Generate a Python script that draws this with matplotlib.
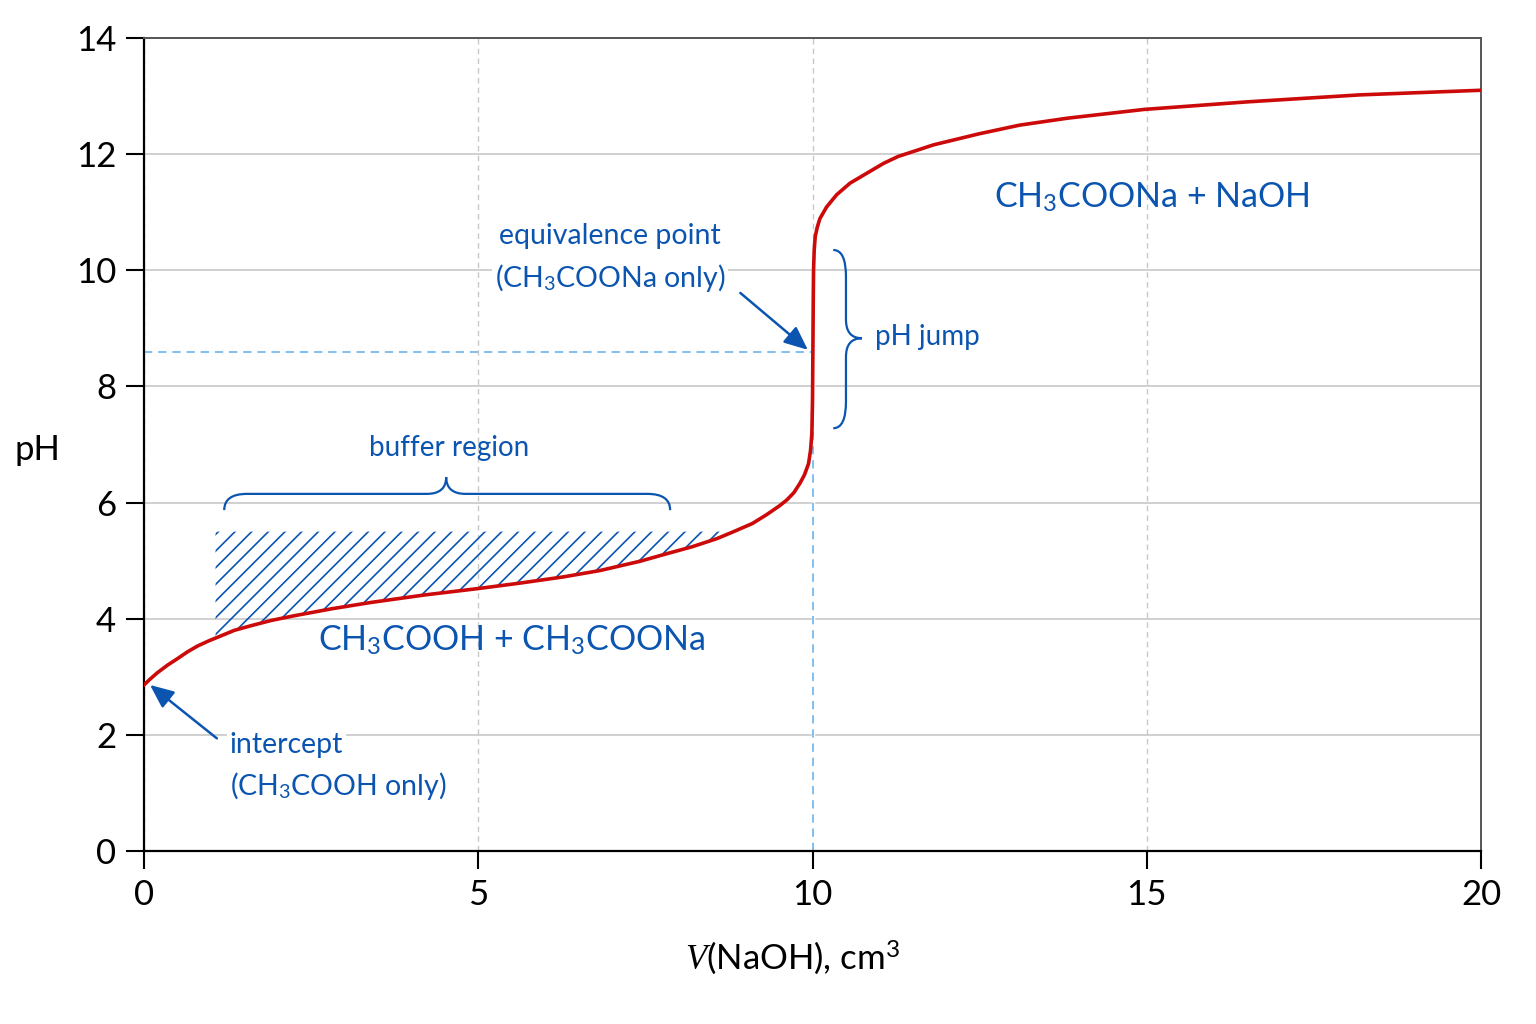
import numpy as np
import matplotlib
matplotlib.use("Agg")
import matplotlib.pyplot as plt
from matplotlib.path import Path
from matplotlib.patches import PathPatch

plt.rcParams['font.family'] = ['Lato', 'DejaVu Sans']
plt.rcParams['mathtext.fontset'] = 'custom'
plt.rcParams['mathtext.rm'] = 'Lato'
plt.rcParams['mathtext.it'] = 'Liberation Serif:italic'
plt.rcParams['hatch.linewidth'] = 1.2

# titration curve: V(NaOH) in cm3 and pH
volume = [0.0, 0.1, 0.2, 0.35, 0.51, 0.65, 0.8, 0.97, 1.14, 1.35, 1.6, 1.9, 2.24,
          2.8, 3.39, 4.2, 5.0, 5.6, 6.27, 6.82, 7.42, 7.82, 8.2, 8.57, 8.82, 9.1,
          9.31, 9.5, 9.61, 9.72, 9.81, 9.88, 9.94, 9.97, 9.99, 10.0, 10.005, 10.01,
          10.015, 10.025, 10.04, 10.07, 10.11, 10.21, 10.36, 10.56, 10.81, 11.06,
          11.28, 11.81, 12.49, 13.10, 13.82, 14.96, 16.5, 18.18, 20.0]
ph = [2.86, 2.97, 3.07, 3.20, 3.32, 3.43, 3.53, 3.62, 3.70, 3.80, 3.88, 3.97, 4.05,
      4.17, 4.28, 4.41, 4.52, 4.61, 4.72, 4.83, 4.99, 5.12, 5.24, 5.38, 5.50, 5.64,
      5.79, 5.94, 6.04, 6.17, 6.33, 6.48, 6.67, 6.90, 7.19, 7.8, 8.6, 9.4,
      10.0, 10.35, 10.58, 10.74, 10.89, 11.09, 11.30, 11.50, 11.67, 11.84,
      11.96, 12.16, 12.35, 12.50, 12.62, 12.77, 12.90, 13.02, 13.10]

equiv_volume = 10.0
equiv_ph = 8.6
buffer_from = 1.07
buffer_to = 8.82
buffer_top = 5.5

xticks = [0, 5, 10, 15, 20]
yticks = [0, 2, 4, 6, 8, 10, 12, 14]

RED = '#CC0A0A'
BLUE = '#0B55B1'
LIGHTBLUE = '#6CB4EE'
GRID = '#C8C8C8'


def hbrace(ax, x0, x1, xm, y, y_end, y_tip, r=0.34, rt=0.29):
    verts = [(x0, y_end), (x0, y), (x0 + r, y), (xm - rt, y), (xm, y), (xm, y_tip),
             (xm, y), (xm + rt, y), (x1 - r, y), (x1, y), (x1, y_end)]
    codes = [Path.MOVETO, Path.CURVE3, Path.CURVE3, Path.LINETO, Path.CURVE3, Path.CURVE3,
             Path.CURVE3, Path.CURVE3, Path.LINETO, Path.CURVE3, Path.CURVE3]
    ax.add_patch(PathPatch(Path(verts, codes), fill=False, ec=BLUE, lw=1.6, zorder=4))


def vbrace(ax, y0, y1, ym, x, x_end, x_tip, r=0.46, rt=0.32):
    verts = [(x_end, y1), (x, y1), (x, y1 - r), (x, ym + rt), (x, ym), (x_tip, ym),
             (x, ym), (x, ym - rt), (x, y0 + r), (x, y0), (x_end, y0)]
    codes = [Path.MOVETO, Path.CURVE3, Path.CURVE3, Path.LINETO, Path.CURVE3, Path.CURVE3,
             Path.CURVE3, Path.CURVE3, Path.LINETO, Path.CURVE3, Path.CURVE3]
    ax.add_patch(PathPatch(Path(verts, codes), fill=False, ec=BLUE, lw=1.6, zorder=4))


fig = plt.figure(figsize=(15.36, 10.24), dpi=100)
ax = fig.add_axes([0.09375, 0.1689, 0.8705, 0.794])

ax.set_xlim(0, 20)
ax.set_ylim(0, 14)
ax.set_xticks(xticks)
ax.set_yticks(yticks)
ax.tick_params(direction='out', length=13, width=1.5, labelsize=25, pad=7)

ax.set_axisbelow(True)
ax.yaxis.grid(True, color=GRID, lw=1.2, ls='-')
ax.xaxis.grid(True, color=GRID, lw=1.0, ls=(0, (4, 3)))

for s in ['left', 'bottom']:
    ax.spines[s].set_linewidth(1.6)
    ax.spines[s].set_color('black')
for s in ['top', 'right']:
    ax.spines[s].set_linewidth(1.4)
    ax.spines[s].set_color('#555555')

# equivalence point guide lines
ax.plot([0, equiv_volume], [equiv_ph, equiv_ph], color=LIGHTBLUE, lw=1.2,
        ls=(0, (5, 3.5)), zorder=2)
ax.plot([equiv_volume, equiv_volume], [0, equiv_ph], color='white', lw=2.5, zorder=1.5)
ax.plot([equiv_volume, equiv_volume], [0, equiv_ph], color=LIGHTBLUE, lw=1.2,
        ls=(0, (5, 3.5)), zorder=2)

# buffer hatching between the curve and the top level
vol = np.array(volume)
phs = np.array(ph)
inside = (vol > buffer_from) & (vol < buffer_to)
hx = np.concatenate([[buffer_from], vol[inside], [buffer_to]])
hy = np.concatenate([[np.interp(buffer_from, vol, phs)], phs[inside],
                     [np.interp(buffer_to, vol, phs)]])
ax.fill_between(hx, hy, buffer_top, facecolor='none', edgecolor=BLUE,
                hatch='//', linewidth=0, zorder=2)

ax.plot(volume, ph, color=RED, lw=2.6, zorder=5, solid_joinstyle='round')

hbrace(ax, 1.20, 7.87, 4.52, 6.15, 5.87, 6.44)
vbrace(ax, 7.28, 10.35, 8.83, 10.50, 10.31, 10.74)

ax.text(4.57, 6.80, 'buffer region', color=BLUE, fontsize=20, ha='center', va='baseline')
ax.text(10.93, 8.72, 'pH jump', color=BLUE, fontsize=20, ha='left', va='baseline')
ax.text(5.5, 3.46, 'CH$_3$COOH + CH$_3$COONa', color=BLUE, fontsize=24.5,
        ha='center', va='baseline', zorder=6)
ax.text(15.07, 11.09, 'CH$_3$COONa + NaOH', color=BLUE, fontsize=24.5,
        ha='center', va='baseline')

box = dict(facecolor='white', edgecolor='none', pad=2)
ax.text(6.97, 10.45, 'equivalence point', color=BLUE, fontsize=20.5, ha='center',
        va='baseline', bbox=box, zorder=6)
ax.text(6.97, 9.72, '(CH$_3$COONa only)', color=BLUE, fontsize=20.5, ha='center',
        va='baseline', bbox=box, zorder=6)
ax.text(1.28, 1.69, 'intercept', color=BLUE, fontsize=20.5, ha='left',
        va='baseline', bbox=box, zorder=6)
ax.text(1.28, 0.96, '(CH$_3$COOH only)', color=BLUE, fontsize=20.5, ha='left',
        va='baseline', bbox=box, zorder=6)

arrow = dict(arrowstyle='-|>,head_length=0.8,head_width=0.35', color=BLUE, lw=1.8,
             mutation_scale=18, shrinkA=0, shrinkB=0)
ax.annotate('', xy=(9.93, 8.63), xytext=(8.92, 9.61), arrowprops=arrow, zorder=6)
ax.annotate('', xy=(0.09, 2.86), xytext=(1.09, 1.94), arrowprops=arrow, zorder=6)

ax.set_xlabel('$V$(NaOH), cm$^3$', fontsize=25)
ax.xaxis.set_label_coords(0.485, -0.107)
ax.set_ylabel('pH', fontsize=25, rotation=0, va='center', ha='center')
ax.yaxis.set_label_coords(-0.080, 0.493)

fig.savefig('out.png', dpi=100)
